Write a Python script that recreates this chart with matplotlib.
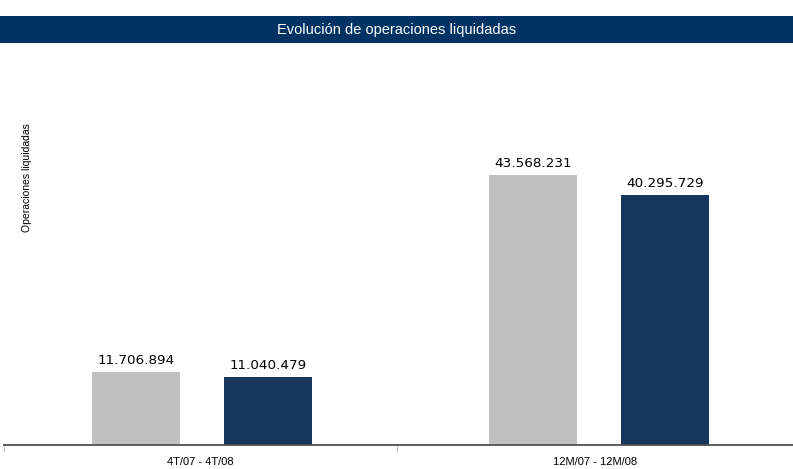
import matplotlib
matplotlib.use('Agg')
import matplotlib.pyplot as plt
from matplotlib.patches import Rectangle
import numpy as np

# data
categories = ['4T/07 - 4T/08', '12M/07 - 12M/08']
values_2007 = [11706894, 43568231]
values_2008 = [11040479, 40295729]
title = 'Evolución de operaciones liquidadas'
ylabel = 'Operaciones liquidadas'

grey = '#C0C0C0'
navy = '#17365D'
bar_blue = '#003363'


def fmt(v):
    # spanish thousands separator
    return f'{v:,}'.replace(',', '.')


fig = plt.figure(figsize=(7.93, 4.69), dpi=100)

# title bar across the top
fig.patches.append(Rectangle((0, 0.9083), 1, 0.0576, transform=fig.transFigure,
                             facecolor=bar_blue, edgecolor='none', zorder=0))
fig.text(0.5, 0.937, title, color='white', ha='center', va='center',
         fontsize=10.5, family='Liberation Sans')

ax = fig.add_axes([3.5 / 793, 24 / 469, 794 / 793, 385 / 469])

x = np.arange(len(categories))
width = 0.2217
offset = 0.1662
ax.bar(x - offset, values_2007, width, color=grey, zorder=2)
ax.bar(x + offset, values_2008, width, color=navy, zorder=2)

for xi, v in zip(x - offset, values_2007):
    ax.text(xi, v + 0.8e6, fmt(v), ha='center', va='bottom', fontsize=9.7,
            family='DejaVu Sans')
for xi, v in zip(x + offset, values_2008):
    ax.text(xi, v + 0.8e6, fmt(v), ha='center', va='bottom', fontsize=9.7,
            family='DejaVu Sans')

ax.set_xlim(-0.5, 1.5)
ax.set_ylim(0, 62.125e6)

for s in ['top', 'right', 'left']:
    ax.spines[s].set_visible(False)
ax.spines['bottom'].set_color('#505050')
ax.spines['bottom'].set_linewidth(1.3)
ax.set_yticks([])

# category boundaries as ticks
ax.set_xticks([-0.5, 0.49])
ax.set_xticklabels([])
ax.tick_params(axis='x', direction='out', length=5, color='#C8C8C8', width=0.8)

# category labels centred between the boundaries
label_x = [200 / 793, 595 / 793]
for lx, c in zip(label_x, categories):
    fig.text(lx, 1 - 462 / 469, c, ha='center', va='center',
             fontsize=8, family='Liberation Sans')

fig.text(27 / 793, 1 - 178 / 469, ylabel, rotation=90, ha='center', va='center',
         fontsize=7.5, family='Liberation Sans')

fig.savefig('out.png', dpi=100)
plt.close(fig)
